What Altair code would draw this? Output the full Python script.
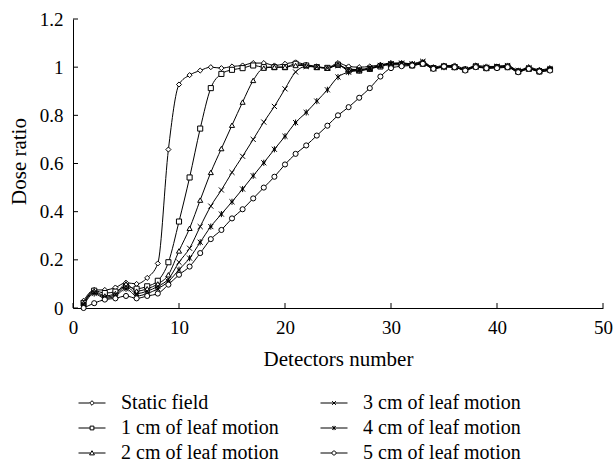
import altair as alt
import pandas as pd

detectors = list(range(1, 46))

static_field = [0.03, 0.075, 0.075, 0.085, 0.105, 0.10, 0.125, 0.185, 0.658, 0.928,
                0.967, 0.986, 1.0, 0.996, 1.003, 1.007, 1.017, 1.017, 1.007, 1.014,
                1.02, 1.01, 1.003, 0.997, 1.017, 1.003, 1.0, 1.003, 1.01, 1.017,
                1.017, 1.014, 1.02, 1.0, 1.007, 1.007, 0.993, 1.007, 1.003, 1.003,
                1.007, 0.986, 1.0, 0.989, 0.996]
cm1 = [0.02, 0.072, 0.062, 0.068, 0.09, 0.08, 0.09, 0.113, 0.19, 0.359,
       0.542, 0.745, 0.913, 0.972, 0.989, 0.996, 1.007, 1.0, 1.0, 1.0,
       1.014, 1.007, 1.0, 0.997, 1.01, 0.986, 0.986, 0.993, 1.003, 1.01,
       1.01, 1.007, 1.014, 0.996, 1.003, 1.0, 0.99, 1.003, 0.996, 1.0,
       1.0, 0.982, 0.993, 0.982, 0.99]
cm2 = [0.02, 0.07, 0.05, 0.06, 0.10, 0.07, 0.08, 0.10, 0.138, 0.237,
       0.331, 0.448, 0.563, 0.662, 0.759, 0.855, 0.945, 0.996, 1.0, 1.0,
       1.007, 1.007, 1.0, 0.996, 1.01, 0.99, 0.99, 0.996, 1.007, 1.014,
       1.014, 1.01, 1.017, 0.996, 1.003, 1.0, 0.99, 1.003, 0.996, 1.0,
       1.003, 0.982, 0.996, 0.986, 0.993]
cm3 = [0.015, 0.065, 0.045, 0.055, 0.09, 0.06, 0.07, 0.09, 0.12, 0.19,
       0.248, 0.338, 0.423, 0.49, 0.563, 0.63, 0.70, 0.772, 0.837, 0.91,
       0.98, 1.003, 1.0, 0.996, 1.007, 0.993, 0.99, 0.996, 1.007, 1.014,
       1.017, 1.014, 1.024, 0.996, 1.003, 1.0, 0.99, 1.003, 1.0, 1.003,
       1.007, 0.986, 0.996, 0.986, 0.993]
cm4 = [0.01, 0.06, 0.04, 0.05, 0.08, 0.05, 0.06, 0.08, 0.11, 0.159,
       0.207, 0.273, 0.338, 0.39, 0.441, 0.494, 0.549, 0.603, 0.659, 0.713,
       0.77, 0.812, 0.859, 0.906, 0.959, 0.979, 0.986, 0.993, 1.007, 1.014,
       1.014, 1.01, 1.02, 0.993, 1.0, 1.0, 0.99, 1.003, 0.996, 1.0,
       1.003, 0.982, 0.996, 0.982, 0.99]
cm5 = [0.0, 0.02, 0.035, 0.04, 0.05, 0.04, 0.05, 0.06, 0.097, 0.138,
       0.172, 0.228, 0.286, 0.324, 0.372, 0.41, 0.455, 0.50, 0.545, 0.596,
       0.64, 0.675, 0.716, 0.757, 0.80, 0.834, 0.873, 0.913, 0.961, 0.996,
       1.004, 1.007, 1.014, 0.993, 1.003, 1.0, 0.986, 1.0, 0.996, 0.996,
       1.0, 0.979, 0.993, 0.982, 0.986]

series_names = ["Static field", "1 cm of leaf motion", "2 cm of leaf motion",
                "3 cm of leaf motion", "4 cm of leaf motion", "5 cm of leaf motion"]
series_values = [static_field, cm1, cm2, cm3, cm4, cm5]

x_ticks = [0, 10, 20, 30, 40, 50]
y_ticks = [0, 0.2, 0.4, 0.6, 0.8, 1.0, 1.2]

rows = []
for name, vals in zip(series_names, series_values):
    for d, v in zip(detectors, vals):
        rows.append({"detector": d, "ratio": v, "series": name})
df = pd.DataFrame(rows)

FONT = "Liberation Serif"
W, H = 530, 289

# marker shapes for the plot
plot_shapes = {
    "Static field": "diamond",
    "1 cm of leaf motion": "square",
    "2 cm of leaf motion": "triangle-up",
    "3 cm of leaf motion": "M-1,-1L1,1M-1,1L1,-1",
    "4 cm of leaf motion": "M-1,-1L1,1M-1,1L1,-1M0,-1.2L0,1.2M-0.6,0L0.6,0",
    "5 cm of leaf motion": "circle",
}

r = 0.17
line_l = "M-1,0L{a},0M{b},0L1,0"
legend_paths = {
    "Static field": line_l.format(a=-r, b=r) + f"M0,{-r}L{r},0L0,{r}L{-r},0Z",
    "1 cm of leaf motion": line_l.format(a=-0.14, b=0.14) + "M-0.14,-0.14L0.14,-0.14L0.14,0.14L-0.14,0.14Z",
    "2 cm of leaf motion": line_l.format(a=-0.12, b=0.12) + "M0,-0.17L0.18,0.14L-0.18,0.14Z",
    "3 cm of leaf motion": "M-1,0L1,0M-0.14,-0.14L0.14,0.14M-0.14,0.14L0.14,-0.14",
    "4 cm of leaf motion": "M-1,0L1,0M-0.13,-0.13L0.13,0.13M-0.13,0.13L0.13,-0.13M0,-0.16L0,0.16",
    "5 cm of leaf motion": line_l.format(a=-0.15, b=0.15) + "M0.15,0A0.15,0.15 0 1,1 -0.15,0A0.15,0.15 0 1,1 0.15,0Z",
}

x_enc = alt.X("detector:Q",
              scale=alt.Scale(domain=[0, 50], nice=False),
              axis=alt.Axis(values=x_ticks, title="Detectors number", tickSize=0,
                            labelFlush=False, labelPadding=10, grid=False,
                            titleX=265, titleY=57, titleBaseline="alphabetic"))
y_enc = alt.Y("ratio:Q",
              scale=alt.Scale(domain=[0, 1.2], nice=False, zero=False),
              axis=alt.Axis(values=y_ticks, format="~g", title="Dose ratio", tickSize=0,
                            labelPadding=10, grid=False, labelFlush=False,
                            titleX=-48, titleY=142, titleBaseline="alphabetic",
                            titleAlign="center"))

base = alt.Chart(df)

lines = base.mark_line(color="black", strokeWidth=1, interpolate="monotone").encode(
    x=x_enc, y=y_enc, detail="series:N")

points = base.mark_point(filled=True, fill="white", stroke="black", strokeWidth=1,
                         size=26, opacity=1).encode(
    x="detector:Q", y="ratio:Q",
    shape=alt.Shape("series:N",
                    scale=alt.Scale(domain=series_names,
                                    range=[plot_shapes[s] for s in series_names]),
                    legend=None))

legend_layer = base.mark_point(filled=False, color="black", strokeWidth=1,
                               opacity=1).encode(
    x="detector:Q", y="ratio:Q",
    shape=alt.Shape("series:N",
                    scale=alt.Scale(domain=series_names,
                                    range=[legend_paths[s] for s in series_names]),
                    legend=alt.Legend(title=None, orient="none", legendX=5, legendY=370,
                                      columns=2, symbolSize=729, labelOffset=15,
                                      rowPadding=1, columnPadding=39, labelLimit=400,
                                      labelFont=FONT, labelFontSize=20, labelColor="black",
                                      symbolStrokeWidth=1, symbolStrokeColor="black",
                                      symbolOpacity=1))
).transform_filter("datum.detector > 1000")

xtick_df = pd.DataFrame({"t": x_ticks})
ytick_df = pd.DataFrame({"t": y_ticks})
xticks = alt.Chart(xtick_df).mark_rule(color="black", strokeWidth=1).encode(
    x="t:Q", y=alt.value(H), y2=alt.value(H - 5))
yticks = alt.Chart(ytick_df).mark_rule(color="black", strokeWidth=1).encode(
    y="t:Q", x=alt.value(0), x2=alt.value(5))

chart = alt.layer(lines, points, legend_layer, xticks, yticks).resolve_scale(
    shape="independent"
).properties(
    width=W, height=H,
    background="white",
    autosize=alt.AutoSizeParams(type="none"),
    padding={"left": 73, "top": 19, "right": 11, "bottom": 159},
).configure_view(stroke=None).configure_axis(
    domainColor="black", domainWidth=1, labelColor="black", titleColor="black",
    labelFont=FONT, titleFont=FONT, labelFontSize=19, titleFontSize=21,
    titleFontWeight="normal"
)

chart.save("out.html", embed_options={"renderer": "svg", "actions": False})
